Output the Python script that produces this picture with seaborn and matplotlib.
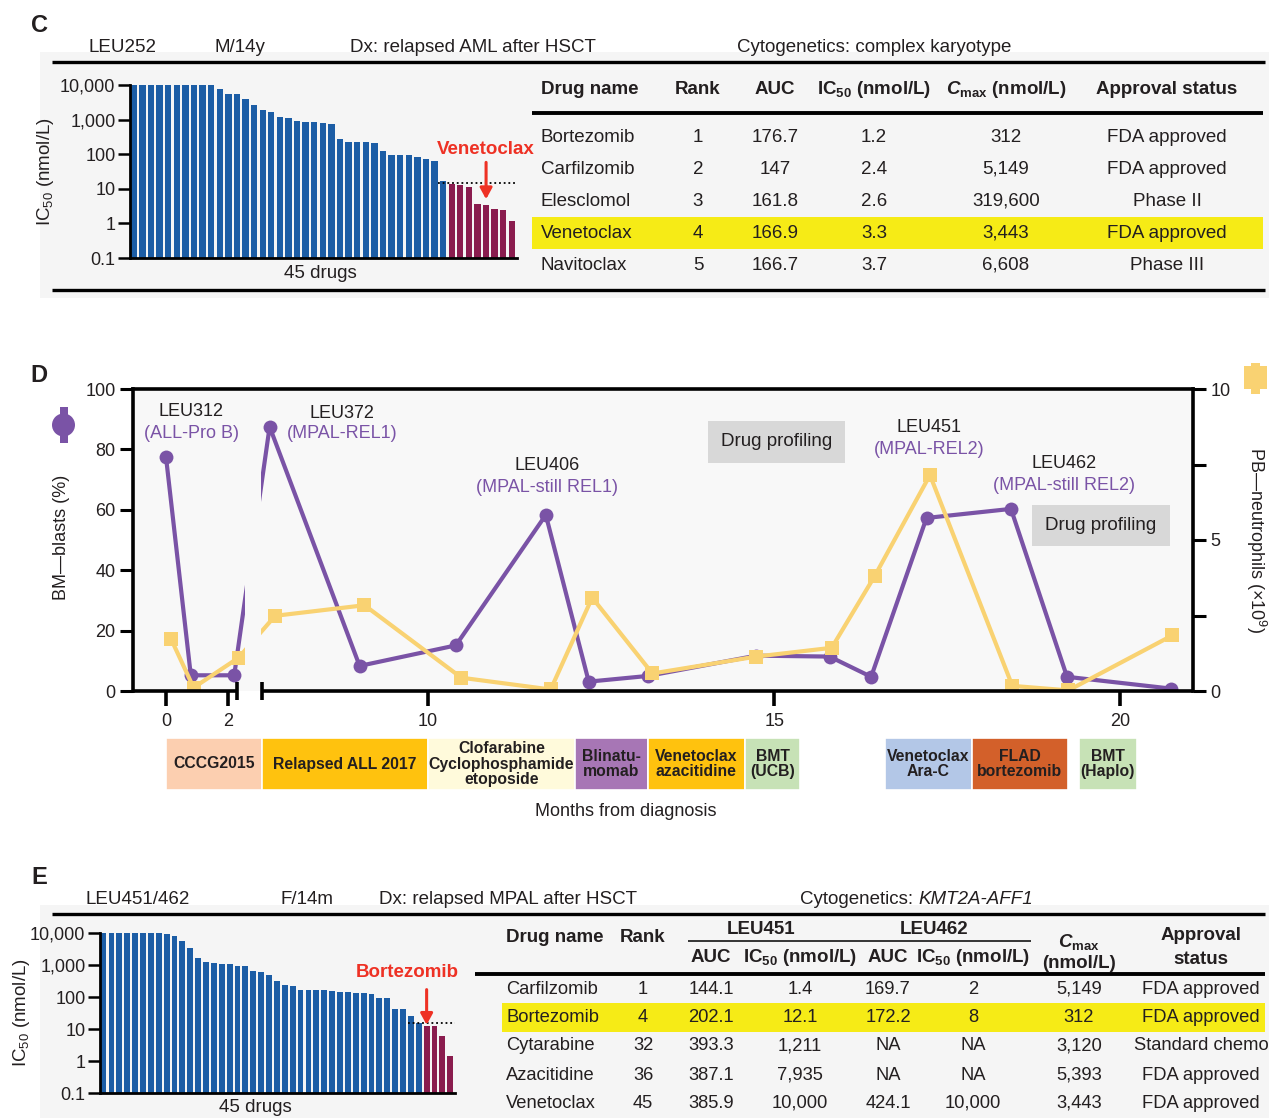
import numpy as np
import matplotlib
matplotlib.use("Agg")
import matplotlib.pyplot as plt
from matplotlib.patches import Rectangle, Circle
from matplotlib.ticker import FixedLocator, NullLocator
import seaborn as sns

sns.set_theme(style="ticks")
INK = "#231F20"
plt.rcParams["font.family"] = ["Liberation Sans", "DejaVu Sans"]
plt.rcParams.update({
    "mathtext.fontset": "custom",
    "mathtext.rm": "Liberation Sans",
    "mathtext.it": "Liberation Sans:italic",
    "mathtext.bf": "Liberation Sans:bold",
    "mathtext.bfit": "Liberation Sans:italic:bold",
    "text.color": INK,
    "axes.edgecolor": "black",
    "xtick.color": "black",
    "ytick.color": "black",
    "xtick.labelcolor": INK,
    "ytick.labelcolor": INK,
})

# ---------------- data ----------------
# Panel C: IC50 (nmol/L) of 45 drugs on LEU252, sorted high to low
c_ic50 = [10000, 10000, 10000, 10000, 10000, 10000, 10000, 10000, 10000, 10000,
          7600, 5600, 5500, 4000, 2600, 1850, 1700, 1200, 1100, 900,
          850, 850, 800, 770, 270, 230, 230, 220, 210, 125,
          95, 93, 92, 85, 72, 63, 16.5, 13.5, 13, 11.5,
          3.7, 3.3, 2.6, 2.4, 1.2]
# Panel E: IC50 (nmol/L) of 45 drugs on LEU451, sorted high to low
e_ic50 = [10000, 10000, 10000, 10000, 10000, 10000, 10000, 10000, 9000, 8200,
          5500, 3300, 1600, 1250, 1130, 1100, 1080, 960, 920, 630,
          590, 500, 320, 230, 220, 165, 162, 160, 160, 158,
          140, 140, 138, 135, 125, 90, 90, 42, 42, 25,
          15.5, 12.1, 12, 6, 1.4]
ic50_cutoff = 15  # nmol/L, dotted reference line

# Panel C table
c_drugs = ["Bortezomib", "Carfilzomib", "Elesclomol", "Venetoclax", "Navitoclax"]
c_rank = ["1", "2", "3", "4", "5"]
c_auc = ["176.7", "147", "161.8", "166.9", "166.7"]
c_ic50_tab = ["1.2", "2.4", "2.6", "3.3", "3.7"]
c_cmax = ["312", "5,149", "319,600", "3,443", "6,608"]
c_status = ["FDA approved", "FDA approved", "Phase II", "FDA approved", "Phase III"]

# Panel E table
e_drugs = ["Carfilzomib", "Bortezomib", "Cytarabine", "Azacitidine", "Venetoclax"]
e_rank = ["1", "4", "32", "36", "45"]
e_auc451 = ["144.1", "202.1", "393.3", "387.1", "385.9"]
e_ic451 = ["1.4", "12.1", "1,211", "7,935", "10,000"]
e_auc462 = ["169.7", "172.2", "NA", "NA", "424.1"]
e_ic462 = ["2", "8", "NA", "NA", "10,000"]
e_cmax = ["5,149", "312", "3,120", "5,393", "3,443"]
e_status = ["FDA approved", "FDA approved", "Standard chemo", "FDA approved", "FDA approved"]

# Panel D: clinical course
bm_month = [0.0, 0.8, 2.2, 7.71, 9.01, 10.4, 11.7, 12.32, 13.18, 14.74, 15.8, 16.4, 17.2, 18.42, 19.23, 20.73]
bm_blasts = [77.5, 5.2, 5.2, 87.5, 8.3, 15.1, 58.3, 3.1, 5.0, 11.7, 11.4, 4.7, 57.3, 60.3, 4.7, 0.8]
pb_month = [0.16, 0.89, 2.34, 7.79, 9.08, 10.48, 11.77, 12.37, 13.24, 14.74, 15.83, 16.45, 17.25, 18.44, 19.25, 20.75]
pb_neut = [1.73, 0.11, 1.1, 2.49, 2.84, 0.44, 0.05, 3.09, 0.58, 1.14, 1.43, 3.8, 7.15, 0.17, 0.02, 1.84]

tx_names = ["CCCG2015", "Relapsed ALL 2017", "Clofarabine\nCyclophosphamide\netoposide",
            "Blinatu-\nmomab", "Venetoclax\nazacitidine", "BMT\n(UCB)",
            "Venetoclax\nAra-C", "FLAD\nbortezomib", "BMT\n(Haplo)"]
tx_start = [0.0, 7.6, 10.0, 12.12, 13.17, 14.58, 16.6, 17.86, 19.4]
tx_end = [7.6, 10.0, 12.12, 13.17, 14.58, 15.37, 17.86, 19.24, 20.24]
tx_colors = ["#FCCFB0", "#FFC20E", "#FFFADB", "#A776B5", "#FFC20E", "#C7E2B6",
             "#B3C7E7", "#D3602A", "#C7E2B6"]

# ---------------- styling ----------------
BLUE = "#1C5DA5"
MAGENTA = "#8A1C4E"
RED = "#EE3124"
PURPLE = "#7A53A6"
YELLOW = "#F9D272"
HILITE = "#F6EB16"
PANEL_BG = "#F5F5F5"
D_BG = "#F8F8F8"

W, H = 1269, 1118
fig = plt.figure(figsize=(W / 100, H / 100), dpi=100)
fig.patch.set_facecolor("white")


def rect(x0, y0, x1, y1):
    return [x0 / W, 1 - y1 / H, (x1 - x0) / W, (y1 - y0) / H]


# background layer
bg = fig.add_axes([0, 0, 1, 1], zorder=-10)
bg.set_xlim(0, W)
bg.set_ylim(H, 0)
bg.axis("off")
bg.add_patch(Rectangle((40, 52), W - 40, 246, color=PANEL_BG, lw=0))
bg.add_patch(Rectangle((40, 905), W - 40, H - 905, color=PANEL_BG, lw=0))


# ---------------- IC50 waterfall panels ----------------
def ic50_panel(ax, values):
    grp = ["sensitive" if v < ic50_cutoff else "other" for v in values]
    ax.set_yscale("log")
    sns.barplot(x=list(range(len(values))), y=values, hue=grp,
                palette={"other": BLUE, "sensitive": MAGENTA},
                width=0.74, saturation=1, dodge=False, legend=False,
                linewidth=0, ax=ax)
    ax.set_facecolor("none")
    ax.set_xlim(-0.45, 44.6)
    ax.set_ylim(0.1, 10000)
    ax.yaxis.set_major_locator(FixedLocator([0.1, 1, 10, 100, 1000, 10000]))
    ax.yaxis.set_minor_locator(NullLocator())
    ax.set_yticklabels(["0.1", "1", "10", "100", "1,000", "10,000"])
    ax.set_xticks([])
    ax.set_xlabel("")
    ax.set_ylabel("")
    for s in ["top", "right"]:
        ax.spines[s].set_visible(False)
    for s in ["left", "bottom"]:
        ax.spines[s].set_linewidth(2.0)
    ax.tick_params(axis="y", length=8.5, width=1.8, pad=2, labelsize=13)


axc = fig.add_axes(rect(130, 85, 517, 258))
ic50_panel(axc, c_ic50)
axc.hlines(ic50_cutoff, 35.4, 44.6, colors="black", linestyles=(0, (1, 1.6)), lw=1.3, zorder=3)
axc.annotate("", xy=(41, 5.0), xytext=(41, 58),
             arrowprops=dict(arrowstyle="-|>,head_length=0.55,head_width=0.3",
                             color=RED, lw=2.2, shrinkA=0, shrinkB=0))
axc.text(41, 140, "Venetoclax", color=RED, fontweight="bold", ha="center",
         va="center", fontsize=13.5)

axe = fig.add_axes(rect(100, 933, 455, 1093))
ic50_panel(axe, e_ic50)
axe.hlines(ic50_cutoff, 38.6, 44.6, colors="black", linestyles=(0, (1, 1.6)), lw=1.3, zorder=3)
axe.annotate("", xy=(41, 13.5), xytext=(41, 170),
             arrowprops=dict(arrowstyle="-|>,head_length=0.55,head_width=0.3",
                             color=RED, lw=2.2, shrinkA=0, shrinkB=0))
axe.text(38.5, 600, "Bortezomib", color=RED, fontweight="bold", ha="center",
         va="center", fontsize=13.5)

# ---------------- panel D: broken month axis ----------------
R = 31.0 / 69.2          # compression of the first two months
B1, B2 = 2.65, 7.6       # axis break (months)
U1, U2 = R * B1, 96.0 / 69.2


def _fwd(x):
    x = np.asarray(x, dtype=float)
    return np.where(x <= B1, R * x,
                    np.where(x >= B2, U2 + (x - B2), U1 + (x - B1) * (U2 - U1) / (B2 - B1)))


def _inv(u):
    u = np.asarray(u, dtype=float)
    return np.where(u <= U1, u / R,
                    np.where(u >= U2, B2 + (u - U2), B1 + (u - U1) * (B2 - B1) / (U2 - U1)))


ax = fig.add_axes(rect(133, 389, 1193, 691))
ax.set_xscale("function", functions=(_fwd, _inv))
ax.set_facecolor(D_BG)
ax2 = ax.twinx()

sns.lineplot(x=bm_month, y=bm_blasts, ax=ax, color=PURPLE, lw=3.0, marker="o",
             markersize=10, markeredgewidth=0, sort=False, estimator=None, errorbar=None)
sns.lineplot(x=pb_month, y=pb_neut, ax=ax2, color=YELLOW, lw=3.0, marker="s",
             markersize=10.5, markeredgewidth=0, sort=False, estimator=None, errorbar=None)

XL = (-1.064, 21.05)
ax.set_xlim(*XL)
ax.set_ylim(0, 100)
ax2.set_ylim(0, 10)
ax.set_xlabel("")
ax.set_ylabel("")
ax2.set_ylabel("")
ax.xaxis.set_major_locator(FixedLocator([0, 2, 10, 15, 20]))
ax.xaxis.set_minor_locator(NullLocator())
ax.set_xticklabels(["0", "2", "10", "15", "20"])
ax.set_yticks([0, 20, 40, 60, 80, 100])
ax2.set_yticks([0, 2.5, 5, 7.5, 10])
ax2.set_yticklabels(["0", "", "5", "", "10"])
ax.tick_params(axis="x", length=11, width=2.6, pad=5, labelsize=13)
ax.tick_params(axis="y", length=9.5, width=2.2, pad=3, labelsize=13)
ax2.tick_params(axis="y", length=9.5, width=2.2, pad=3, labelsize=13)
for s in ["right", "bottom"]:
    ax.spines[s].set_visible(False)
for s in ["left", "top"]:
    ax.spines[s].set_linewidth(2.6)
for s in ["left", "top", "bottom"]:
    ax2.spines[s].set_visible(False)
ax2.spines["right"].set_linewidth(2.6)

# hide the line segments inside the break
ax2.axvspan(2.56, 7.3, ymin=0.012, ymax=0.97, color=D_BG, lw=0, zorder=2.5)
xt = ax2.get_xaxis_transform()
ax2.plot([XL[0], 2.29], [0, 0], transform=xt, color="black", lw=2.6, clip_on=False,
         zorder=4, solid_capstyle="butt")
ax2.plot([B2, XL[1]], [0, 0], transform=xt, color="black", lw=2.6, clip_on=False,
         zorder=4, solid_capstyle="butt")
for xb in (2.29, B2):
    ax2.plot([xb, xb], [-0.03, 0.03], transform=xt, color="black", lw=2.6,
             clip_on=False, zorder=4, solid_capstyle="butt")

# treatment timeline
bx = fig.add_axes(rect(133, 738, 1193, 790), sharex=ax)
bx.barh([0] * len(tx_names), [e - s for s, e in zip(tx_start, tx_end)], left=tx_start,
        height=1.0, color=tx_colors, edgecolor="white", linewidth=1.2)
bx.set_ylim(-0.5, 0.5)
bx.set_xlim(*XL)
bx.axis("off")
for name, s, e in zip(tx_names, tx_start, tx_end):
    xm = float(_inv((_fwd(s) + _fwd(e)) / 2))
    bx.text(xm, 0, name, ha="center", va="center", fontsize=11.3, fontweight="bold",
            linespacing=1.05, color=INK)

# ---------------- overlay: text, tables, decorations ----------------
ov = fig.add_axes([0, 0, 1, 1], zorder=20)
ov.set_xlim(0, W)
ov.set_ylim(H, 0)
ov.axis("off")


def t(x, y, s, ha="center", va="center", size=13.5, **kw):
    ov.text(x, y, s, ha=ha, va=va, fontsize=size, **kw)


def hline(y, x0, x1, lw):
    ov.plot([x0, x1], [y, y], color="black", lw=lw, solid_capstyle="butt")


# panel letters
for letter, y in (("C", 26), ("D", 376), ("E", 878)):
    t(39, y, letter, size=17, fontweight="bold")

# panel C header
t(122, 48, "LEU252")
t(240, 48, "M/14y")
t(473, 48, "Dx: relapsed AML after HSCT")
t(874, 48, "Cytogenetics: complex karyotype")
hline(62, 52, 1265, 2.4)
hline(290, 52, 1265, 2.4)
t(45, 172, r"IC$_{50}$ (nmol/L)", rotation=90, size=13.5)
t(320, 273, "45 drugs", size=13.5)

# panel C table
hline(113, 532, 1263, 2.8)
c_x = [541, 698, 775, 874, 1006, 1167]
hdr = dict(fontweight="bold", size=13.5)
t(c_x[0], 89, "Drug name", ha="left", **hdr)
t(c_x[1], 89, "Rank", **hdr)
t(c_x[2], 89, "AUC", **hdr)
t(c_x[3], 89, r"IC$_{\mathbf{50}}$ (nmol/L)", **hdr)
t(c_x[4], 89, r"$\mathbfit{C}_{\mathbf{max}}$ (nmol/L)", **hdr)
t(c_x[5], 89, "Approval status", **hdr)
c_rows_y = [137, 169, 201, 233, 265]
ov.add_patch(Rectangle((532, 217), 731, 32, color=HILITE, lw=0, zorder=0.5))
for i, yy in enumerate(c_rows_y):
    t(c_x[0], yy, c_drugs[i], ha="left")
    t(c_x[1], yy, c_rank[i])
    t(c_x[2], yy, c_auc[i])
    t(c_x[3], yy, c_ic50_tab[i])
    t(c_x[4], yy, c_cmax[i])
    t(c_x[5], yy, c_status[i])

# panel D labels
t(62, 537, "BM—blasts (%)", rotation=90, size=13)
t(1256, 540, r"PB—neutrophils (×10$^{9}$)", rotation=270, size=13)
t(626, 812, "Months from diagnosis", size=13)
ov.add_patch(Rectangle((59.5, 407), 8, 36, color=PURPLE, lw=0))
ov.add_patch(Circle((63.5, 425), 11.5, color=PURPLE, lw=0))
ov.add_patch(Rectangle((1251, 363), 9, 31, color=YELLOW, lw=0))
ov.add_patch(Rectangle((1244, 366), 23, 23, color=YELLOW, lw=0))

for (x, y1, y2, a, b) in [(191, 412, 434, "LEU312", "(ALL-Pro B)"),
                          (342, 413, 434, "LEU372", "(MPAL-REL1)"),
                          (547, 466, 488, "LEU406", "(MPAL-still REL1)"),
                          (929, 427, 449, "LEU451", "(MPAL-REL2)"),
                          (1064, 464, 486, "LEU462", "(MPAL-still REL2)")]:
    t(x, y1, a, size=13)
    t(x, y2, b, size=13, color=PURPLE)

for (x0, y0, x1, y1) in [(708, 421, 845, 463), (1032, 505, 1170, 546)]:
    ov.add_patch(Rectangle((x0, y0), x1 - x0, y1 - y0, color="#D8D8D8", lw=0))
    t((x0 + x1) / 2, (y0 + y1) / 2, "Drug profiling", size=13.5)

# panel E header
t(138, 900, "LEU451/462")
t(307, 900, "F/14m")
t(508, 900, "Dx: relapsed MPAL after HSCT")
t(800, 900, "Cytogenetics:", ha="left")
t(1033, 900, "KMT2A-AFF1", ha="right", style="italic")
hline(914, 52, 1265, 2.4)
t(22, 1013, r"IC$_{50}$ (nmol/L)", rotation=90, size=13.5)
t(255, 1107, "45 drugs", size=13.5)

# panel E table
e_x = [506, 643, 711, 800, 888, 973, 1079, 1201]
t(e_x[0], 938, "Drug name", ha="left", **hdr)
t(e_x[1], 938, "Rank", **hdr)
t(761, 929, "LEU451", **hdr)
t(934, 929, "LEU462", **hdr)
hline(941, 688, 1031, 1.1)
t(e_x[2], 958, "AUC", **hdr)
t(e_x[3], 958, r"IC$_{\mathbf{50}}$ (nmol/L)", **hdr)
t(e_x[4], 958, "AUC", **hdr)
t(e_x[5], 958, r"IC$_{\mathbf{50}}$ (nmol/L)", **hdr)
t(e_x[6], 942, r"$\mathbfit{C}_{\mathbf{max}}$", **hdr)
t(e_x[6], 963, "(nmol/L)", **hdr)
t(e_x[7], 935, "Approval", **hdr)
t(e_x[7], 959, "status", **hdr)
hline(974, 475, 1265, 2.8)
e_rows_y = [989, 1018, 1046, 1075, 1103]
ov.add_patch(Rectangle((502, 1003), 763, 29, color=HILITE, lw=0, zorder=0.5))
for i, yy in enumerate(e_rows_y):
    t(e_x[0], yy, e_drugs[i], ha="left", size=13.2)
    t(e_x[1], yy, e_rank[i], size=13.2)
    t(e_x[2], yy, e_auc451[i], size=13.2)
    t(e_x[3], yy, e_ic451[i], size=13.2)
    t(e_x[4], yy, e_auc462[i], size=13.2)
    t(e_x[5], yy, e_ic462[i], size=13.2)
    t(e_x[6], yy, e_cmax[i], size=13.2)
    t(e_x[7], yy, e_status[i], size=13.2)

fig.savefig("out.png", dpi=100)
